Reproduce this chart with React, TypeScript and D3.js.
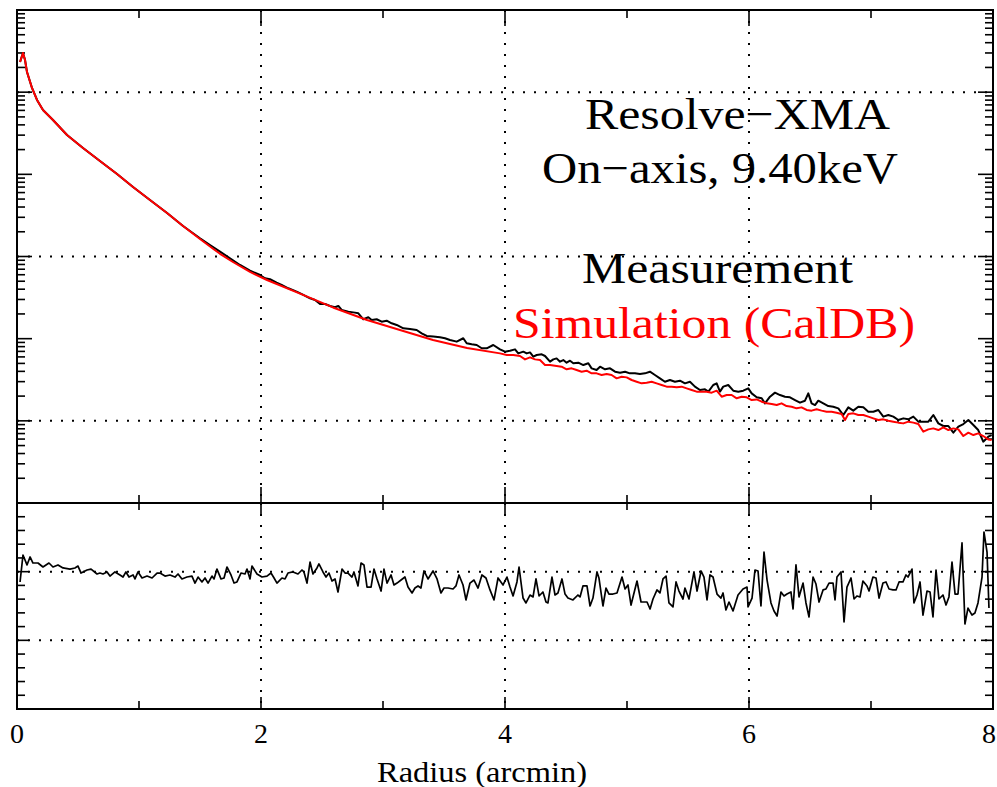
import React from "react";
import * as d3 from "d3";

// ---------- data ----------
const radiusMajorTicks = [0, 2, 4, 6, 8];
const radiusTickLabels = ["0", "2", "4", "6", "8"];
const radiusMinorTicks = [1, 3, 5, 7];
const radiusGrid = [2, 4, 6];
const brightnessDecades = [-6, -5, -4, -3, -2, -1, 0];
const brightnessGridDecades = [-5, -3, -1];
const ratioMajorTicks = [0, 0.5, 1.0, 1.5];
const ratioGrid = [0.5, 1.0];

// [radius (arcmin), log10 surface brightness]
const measurementLog10: [number, number][] = [
  [0.025, -0.633], [0.049, -0.523], [0.066, -0.609], [0.082, -0.755], [0.123, -0.949], [0.164, -1.095],
  [0.213, -1.217], [0.295, -1.339], [0.41, -1.521], [0.541, -1.679], [0.68, -1.838], [0.82, -1.996],
  [0.951, -2.154], [1.09, -2.312], [1.23, -2.47], [1.361, -2.629],
  [1.5, -2.778], [1.582, -2.86], [1.664, -2.941], [1.746, -3.022], [1.828, -3.103], [1.91, -3.172],
  [1.992, -3.225], [2.033, -3.265], [2.074, -3.277], [2.128, -3.318], [2.169, -3.346], [2.224, -3.387],
  [2.292, -3.428], [2.347, -3.468], [2.374, -3.488], [2.402, -3.509], [2.443, -3.529], [2.484, -3.578],
  [2.525, -3.578], [2.566, -3.602], [2.606, -3.618], [2.634, -3.602], [2.661, -3.651], [2.716, -3.671],
  [2.77, -3.683], [2.798, -3.691], [2.839, -3.764], [2.88, -3.74], [2.907, -3.772], [2.948, -3.764],
  [2.989, -3.793], [3.03, -3.781], [3.071, -3.813], [3.112, -3.833], [3.167, -3.874], [3.221, -3.882],
  [3.276, -3.894], [3.317, -3.935], [3.358, -3.967], [3.412, -3.975], [3.467, -3.983], [3.508, -3.995],
  [3.549, -4.016], [3.604, -4.036], [3.658, -3.995], [3.686, -4.056], [3.727, -4.069], [3.768, -4.077],
  [3.809, -4.117], [3.85, -4.117], [3.904, -4.077],
  [3.959, -4.13], [4.0, -4.158], [4.041, -4.146], [4.082, -4.13], [4.109, -4.179], [4.15, -4.158],
  [4.178, -4.179], [4.205, -4.167], [4.232, -4.219], [4.26, -4.199], [4.301, -4.191], [4.328, -4.211],
  [4.369, -4.28], [4.396, -4.252], [4.423, -4.24], [4.451, -4.28], [4.478, -4.26], [4.505, -4.292],
  [4.533, -4.268], [4.56, -4.3], [4.601, -4.292], [4.642, -4.321], [4.683, -4.3], [4.71, -4.361],
  [4.751, -4.382], [4.779, -4.341], [4.82, -4.373], [4.861, -4.361], [4.902, -4.402], [4.943, -4.414],
  [4.984, -4.402], [5.024, -4.422], [5.065, -4.422], [5.106, -4.43], [5.147, -4.422], [5.188, -4.402],
  [5.229, -4.442], [5.27, -4.483], [5.311, -4.524], [5.352, -4.503], [5.393, -4.524], [5.434, -4.511],
  [5.475, -4.544], [5.516, -4.524], [5.557, -4.584], [5.598, -4.625], [5.639, -4.617], [5.667, -4.645],
  [5.707, -4.564], [5.735, -4.544], [5.762, -4.645], [5.789, -4.584], [5.83, -4.564], [5.871, -4.633],
  [5.912, -4.645], [5.953, -4.633], [5.994, -4.605], [6.022, -4.666], [6.063, -4.714], [6.104, -4.726],
  [6.131, -4.787], [6.172, -4.706], [6.213, -4.657], [6.254, -4.686], [6.295, -4.706], [6.336, -4.714],
  [6.377, -4.747], [6.418, -4.779], [6.459, -4.755], [6.486, -4.666], [6.513, -4.787], [6.541, -4.808],
  [6.568, -4.755], [6.609, -4.787], [6.65, -4.82], [6.691, -4.828], [6.732, -4.848], [6.773, -4.929],
  [6.814, -4.836], [6.855, -4.876], [6.896, -4.828], [6.937, -4.836], [6.978, -4.889], [7.019, -4.889],
  [7.06, -4.868], [7.101, -4.949], [7.142, -4.929], [7.183, -4.949], [7.224, -4.99], [7.265, -4.97],
  [7.306, -4.982], [7.347, -4.949], [7.388, -5.01], [7.429, -5.01], [7.47, -5.01], [7.511, -4.929],
  [7.552, -5.031], [7.593, -5.063], [7.634, -5.063], [7.675, -5.144], [7.716, -5.071], [7.757, -5.039],
  [7.798, -4.99], [7.839, -5.051], [7.879, -5.112], [7.92, -5.254], [7.961, -5.193], [7.989, -5.173],
];

const simulationLog10: [number, number][] = [
  [0.025, -0.633], [0.049, -0.523], [0.066, -0.609], [0.082, -0.755], [0.123, -0.949], [0.164, -1.095],
  [0.213, -1.217], [0.295, -1.339], [0.41, -1.521], [0.541, -1.679], [0.68, -1.838], [0.82, -1.996],
  [0.951, -2.154], [1.09, -2.312], [1.23, -2.47], [1.361, -2.629], [1.5, -2.787], [1.607, -2.905],
  [1.664, -2.967], [1.77, -3.067], [1.91, -3.188], [2.049, -3.286], [2.32, -3.452], [2.59, -3.62],
  [2.869, -3.773], [3.139, -3.894], [3.41, -4.016], [3.689, -4.113],
  [3.959, -4.179], [4.014, -4.199], [4.068, -4.199], [4.123, -4.211], [4.164, -4.252], [4.205, -4.227],
  [4.246, -4.252], [4.287, -4.26], [4.328, -4.321], [4.369, -4.321], [4.423, -4.333], [4.464, -4.341],
  [4.505, -4.373], [4.546, -4.361], [4.587, -4.382], [4.628, -4.402], [4.669, -4.39], [4.71, -4.422],
  [4.751, -4.422], [4.792, -4.442], [4.833, -4.43], [4.874, -4.442], [4.915, -4.483], [4.956, -4.463],
  [4.997, -4.471], [5.038, -4.503], [5.079, -4.524], [5.12, -4.544], [5.161, -4.536], [5.202, -4.524],
  [5.243, -4.544], [5.284, -4.564], [5.325, -4.584], [5.366, -4.584], [5.407, -4.592], [5.448, -4.584],
  [5.489, -4.605], [5.53, -4.625], [5.571, -4.645], [5.612, -4.645], [5.653, -4.645], [5.694, -4.657],
  [5.735, -4.633], [5.776, -4.706], [5.817, -4.686], [5.858, -4.686], [5.899, -4.726], [5.94, -4.706],
  [5.981, -4.714], [6.022, -4.747], [6.063, -4.739], [6.104, -4.767], [6.145, -4.787], [6.186, -4.795],
  [6.227, -4.808], [6.267, -4.787], [6.308, -4.82], [6.349, -4.828], [6.39, -4.848], [6.431, -4.836],
  [6.472, -4.868], [6.513, -4.876], [6.554, -4.86], [6.595, -4.876], [6.636, -4.889], [6.677, -4.889],
  [6.718, -4.901], [6.759, -4.917], [6.787, -4.99], [6.814, -4.917], [6.855, -4.909], [6.896, -4.929],
  [6.937, -4.929], [6.978, -4.949], [7.019, -4.97], [7.06, -4.99], [7.101, -4.982], [7.142, -4.998],
  [7.183, -5.01], [7.224, -5.022], [7.265, -5.031], [7.306, -5.01], [7.347, -5.022], [7.388, -5.039],
  [7.429, -5.132], [7.47, -5.104], [7.511, -5.092], [7.552, -5.112], [7.593, -5.079], [7.634, -5.112],
  [7.675, -5.092], [7.716, -5.104], [7.757, -5.185], [7.798, -5.144], [7.839, -5.173], [7.879, -5.153],
  [7.92, -5.185], [7.961, -5.226], [7.989, -5.234],
];

// [radius (arcmin), ratio]
const ratioProfile: [number, number][] = [
  [0.025, 0.925], [0.049, 1.121], [0.082, 1.049], [0.107, 1.107], [0.131, 1.063], [0.172, 1.063],
  [0.213, 1.034], [0.262, 1.063], [0.295, 1.034], [0.336, 1.049], [0.377, 1.027], [0.434, 1.019],
  [0.475, 1.027], [0.5, 1.041], [0.525, 0.99], [0.574, 1.012], [0.607, 1.019], [0.656, 0.983],
  [0.68, 0.99], [0.705, 0.983], [0.738, 0.998], [0.762, 0.968], [0.803, 0.998], [0.844, 0.976],
  [0.869, 0.961], [0.893, 0.998], [0.918, 0.961], [0.951, 0.976], [0.967, 0.947], [0.992, 0.998],
  [1.025, 0.954], [1.066, 0.968], [1.107, 0.954], [1.148, 0.99], [1.172, 0.99], [1.213, 0.968],
  [1.254, 0.976], [1.295, 0.961], [1.32, 0.983], [1.352, 0.947], [1.393, 0.961], [1.434, 0.968],
  [1.459, 0.917], [1.484, 0.961], [1.516, 0.925], [1.541, 0.954], [1.566, 0.917], [1.598, 0.968],
  [1.615, 0.947], [1.639, 1.019], [1.672, 0.947], [1.697, 0.954], [1.721, 1.034], [1.754, 0.976],
  [1.779, 0.917], [1.803, 0.925], [1.836, 0.99], [1.869, 0.983], [1.885, 1.019], [1.91, 0.947],
  [1.926, 1.041], [1.967, 0.983], [2.008, 0.961], [2.049, 0.968], [2.082, 0.99], [2.107, 0.954],
  [2.131, 0.917], [2.172, 0.954], [2.197, 0.947], [2.221, 0.99], [2.262, 0.998], [2.303, 0.983],
  [2.336, 1.012], [2.352, 0.998], [2.377, 0.917], [2.402, 1.07], [2.426, 0.983], [2.459, 1.027],
  [2.475, 1.056], [2.508, 0.998], [2.533, 0.961], [2.557, 0.99], [2.582, 0.932], [2.607, 0.947],
  [2.631, 0.852], [2.664, 1.019], [2.689, 0.99], [2.713, 0.99], [2.746, 0.961], [2.762, 0.998],
  [2.795, 0.896], [2.82, 1.063], [2.844, 1.049], [2.869, 0.888], [2.902, 0.888], [2.926, 1.019],
  [2.951, 0.947], [2.984, 0.859], [3.008, 1.019], [3.033, 0.917], [3.066, 0.976], [3.09, 0.903],
  [3.115, 0.917], [3.148, 0.939], [3.18, 0.961], [3.205, 0.888], [3.238, 0.845], [3.262, 0.881],
  [3.287, 0.896], [3.311, 0.881], [3.336, 1.005], [3.369, 0.947], [3.41, 1.005], [3.443, 0.947],
  [3.475, 0.845], [3.5, 0.881], [3.533, 0.881], [3.574, 0.874], [3.598, 0.896], [3.623, 0.976],
  [3.656, 0.903], [3.68, 0.794], [3.713, 0.917], [3.746, 0.939], [3.779, 0.881], [3.811, 0.976],
  [3.844, 0.954], [3.877, 0.867], [3.91, 0.794], [3.943, 0.954], [3.984, 0.903], [4.016, 0.961],
  [4.041, 0.888], [4.066, 0.823], [4.098, 0.925], [4.115, 1.034], [4.148, 0.808], [4.172, 0.772],
  [4.205, 0.83], [4.23, 0.816], [4.254, 0.947], [4.279, 0.823], [4.311, 0.852], [4.336, 0.779],
  [4.352, 0.772], [4.385, 0.961], [4.41, 0.83], [4.434, 0.845], [4.467, 0.947], [4.492, 0.837],
  [4.516, 0.808], [4.557, 0.794], [4.598, 0.83], [4.615, 0.816], [4.639, 0.896], [4.672, 0.896],
  [4.697, 0.75], [4.721, 0.808], [4.754, 0.998], [4.77, 0.954], [4.803, 0.75], [4.828, 0.881],
  [4.852, 0.837], [4.885, 0.837], [4.918, 0.845], [4.959, 0.961], [4.984, 0.874], [5.008, 0.903],
  [5.033, 0.757], [5.082, 0.932], [5.115, 0.779], [5.164, 0.779], [5.189, 0.728], [5.213, 0.801],
  [5.246, 0.867], [5.27, 0.845], [5.295, 0.947], [5.32, 0.968], [5.344, 0.772], [5.377, 0.743],
  [5.402, 0.925], [5.426, 0.859], [5.459, 0.801], [5.475, 0.881], [5.508, 0.801], [5.549, 0.998],
  [5.574, 0.859], [5.607, 1.005], [5.631, 0.961], [5.656, 0.794], [5.68, 0.976], [5.705, 0.961],
  [5.738, 0.837], [5.77, 0.808], [5.787, 0.845], [5.811, 0.721], [5.836, 0.779], [5.869, 0.714],
  [5.91, 0.83], [5.951, 0.874], [5.984, 0.888], [5.992, 0.743], [6.025, 0.808], [6.049, 1.012],
  [6.074, 1.005], [6.098, 0.75], [6.123, 1.143], [6.148, 0.939], [6.18, 0.772], [6.205, 0.714],
  [6.23, 0.677], [6.262, 0.852], [6.287, 0.823], [6.311, 0.837], [6.344, 0.852], [6.361, 0.728],
  [6.385, 1.049], [6.41, 0.816], [6.443, 0.917], [6.467, 0.772], [6.492, 0.67], [6.525, 0.961],
  [6.549, 0.91], [6.574, 0.779], [6.607, 0.867], [6.631, 0.874], [6.656, 0.917], [6.689, 0.917],
  [6.705, 0.794], [6.721, 0.961], [6.754, 0.998], [6.779, 0.634], [6.803, 0.888], [6.836, 0.954],
  [6.861, 0.801], [6.885, 0.823], [6.91, 0.816], [6.934, 0.932], [6.967, 0.896], [6.984, 0.859],
  [7.016, 0.961], [7.041, 0.954], [7.066, 0.808], [7.098, 0.917], [7.123, 0.925], [7.148, 0.874],
  [7.18, 0.867], [7.205, 0.867], [7.23, 0.925], [7.262, 0.925], [7.287, 0.976], [7.303, 0.961],
  [7.336, 1.019], [7.352, 0.772], [7.377, 0.83], [7.402, 0.925], [7.426, 0.684], [7.459, 0.859],
  [7.484, 0.852], [7.508, 0.67], [7.533, 1.012], [7.557, 0.801], [7.59, 0.83], [7.615, 0.757],
  [7.639, 0.816], [7.664, 1.07], [7.689, 0.837], [7.713, 0.837], [7.746, 1.209], [7.77, 0.619],
  [7.795, 0.735], [7.828, 0.684], [7.852, 0.699], [7.877, 0.772], [7.91, 0.961], [7.926, 1.289],
  [7.951, 1.143], [7.967, 0.735],
];

// ---------- layout ----------
const W = 997;
const H = 787;
const LEFT = 17;
const RIGHT = 993;
const TOP = 10;
const MID = 503;
const BOTTOM = 709;
const SERIF = "'Liberation Serif', 'Times New Roman', serif";

export default function App() {
  const x = d3.scaleLinear().domain([0, 8]).range([LEFT, RIGHT]);
  const yTop = d3.scaleLog().domain([1e-6, 1]).range([MID, TOP]);
  const yBot = d3.scaleLinear().domain([0, 1.5]).range([BOTTOM, MID]);

  const upperLine = d3
    .line<[number, number]>()
    .x((d) => x(d[0]))
    .y((d) => yTop(Math.pow(10, d[1])));
  const ratioLine = d3
    .line<[number, number]>()
    .x((d) => x(d[0]))
    .y((d) => yBot(d[1]));

  const dotted = { stroke: "#000", strokeWidth: 2, strokeDasharray: "2 9", fill: "none" } as const;

  const logTicks: { v: number; major: boolean }[] = [];
  brightnessDecades.forEach((k) => {
    logTicks.push({ v: Math.pow(10, k), major: true });
    if (k < 0) for (let m = 2; m <= 9; m++) logTicks.push({ v: m * Math.pow(10, k), major: false });
  });
  const ratioMinor = d3.range(0, 1.5001, 0.1).filter((v) => Math.abs(v * 2 - Math.round(v * 2)) > 1e-6);

  const tickStroke = { stroke: "#000", strokeWidth: 1.6 };

  return (
    <svg
      width={W}
      height={H}
      viewBox={`0 0 ${W} ${H}`}
      style={{ position: "absolute", left: 0, top: 0, background: "#fff" }}
    >
      <rect x={0} y={0} width={W} height={H} fill="#fff" />

      {/* grids */}
      {brightnessGridDecades.map((k) => (
        <line key={"hg" + k} x1={LEFT} x2={RIGHT} y1={yTop(Math.pow(10, k))} y2={yTop(Math.pow(10, k))} {...dotted} />
      ))}
      {ratioGrid.map((v) => (
        <line key={"rg" + v} x1={LEFT} x2={RIGHT} y1={yBot(v)} y2={yBot(v)} {...dotted} />
      ))}
      {radiusGrid.map((r) => (
        <g key={"vg" + r}>
          <line x1={x(r)} x2={x(r)} y1={TOP} y2={MID} {...dotted} />
          <line x1={x(r)} x2={x(r)} y1={MID} y2={BOTTOM} {...dotted} />
        </g>
      ))}

      {/* x ticks */}
      {radiusMajorTicks.concat(radiusMinorTicks).map((r) => {
        const major = radiusMajorTicks.includes(r);
        const X = x(r);
        return (
          <g key={"xt" + r} {...tickStroke}>
            <line x1={X} x2={X} y1={TOP} y2={TOP + (major ? 16 : 8)} />
            <line x1={X} x2={X} y1={MID} y2={MID - (major ? 16 : 8)} />
            <line x1={X} x2={X} y1={MID} y2={MID + (major ? 11 : 7)} />
            <line x1={X} x2={X} y1={BOTTOM} y2={BOTTOM - (major ? 12 : 8)} />
          </g>
        );
      })}

      {/* upper y ticks */}
      {logTicks.map((t, i) => {
        const Y = yTop(t.v);
        const len = t.major ? 15 : 8;
        return (
          <g key={"yt" + i} {...tickStroke}>
            <line x1={LEFT} x2={LEFT + len} y1={Y} y2={Y} />
            <line x1={RIGHT} x2={RIGHT - len} y1={Y} y2={Y} />
          </g>
        );
      })}

      {/* lower y ticks */}
      {ratioMajorTicks.map((v) => (
        <g key={"rt" + v} {...tickStroke}>
          <line x1={LEFT} x2={LEFT + 12} y1={yBot(v)} y2={yBot(v)} />
          <line x1={RIGHT} x2={RIGHT - 12} y1={yBot(v)} y2={yBot(v)} />
        </g>
      ))}
      {ratioMinor.map((v) => (
        <g key={"rm" + v} {...tickStroke}>
          <line x1={LEFT} x2={LEFT + 8} y1={yBot(v)} y2={yBot(v)} />
          <line x1={RIGHT} x2={RIGHT - 8} y1={yBot(v)} y2={yBot(v)} />
        </g>
      ))}

      {/* curves */}
      <path d={upperLine(measurementLog10) || ""} fill="none" stroke="#000" strokeWidth={2} strokeLinejoin="round" />
      <path d={upperLine(simulationLog10) || ""} fill="none" stroke="#ff0000" strokeWidth={2} strokeLinejoin="round" />
      <path d={ratioLine(ratioProfile) || ""} fill="none" stroke="#000" strokeWidth={1.7} strokeLinejoin="round" />

      {/* frames */}
      <rect x={LEFT} y={TOP} width={RIGHT - LEFT} height={MID - TOP} fill="none" stroke="#000" strokeWidth={2} />
      <rect x={LEFT} y={MID} width={RIGHT - LEFT} height={BOTTOM - MID} fill="none" stroke="#000" strokeWidth={2} />

      {/* annotation */}
      <g fontFamily={SERIF} fontSize={45} textAnchor="middle">
        <text x={737.5} y={129} fill="#000" textLength={305} lengthAdjust="spacingAndGlyphs">Resolve−XMA</text>
        <text x={720} y={183} fill="#000" textLength={356} lengthAdjust="spacingAndGlyphs">On−axis, 9.40keV</text>
        <text x={717.5} y={283} fill="#000" textLength={271} lengthAdjust="spacingAndGlyphs">Measurement</text>
        <text x={714} y={338} fill="#ff0000" textLength={402} lengthAdjust="spacingAndGlyphs">Simulation (CalDB)</text>
      </g>

      {/* x tick labels */}
      <g fontFamily={SERIF} fontSize={28} textAnchor="middle" fill="#000">
        {radiusMajorTicks.map((r, i) => (
          <text key={"xl" + r} x={Math.min(x(r), W - 8)} y={743}>
            {radiusTickLabels[i]}
          </text>
        ))}
      </g>
      <text
        x={482}
        y={782}
        fontFamily={SERIF}
        fontSize={30}
        textAnchor="middle"
        textLength={210}
        lengthAdjust="spacingAndGlyphs"
      >
        Radius (arcmin)
      </text>
    </svg>
  );
}
